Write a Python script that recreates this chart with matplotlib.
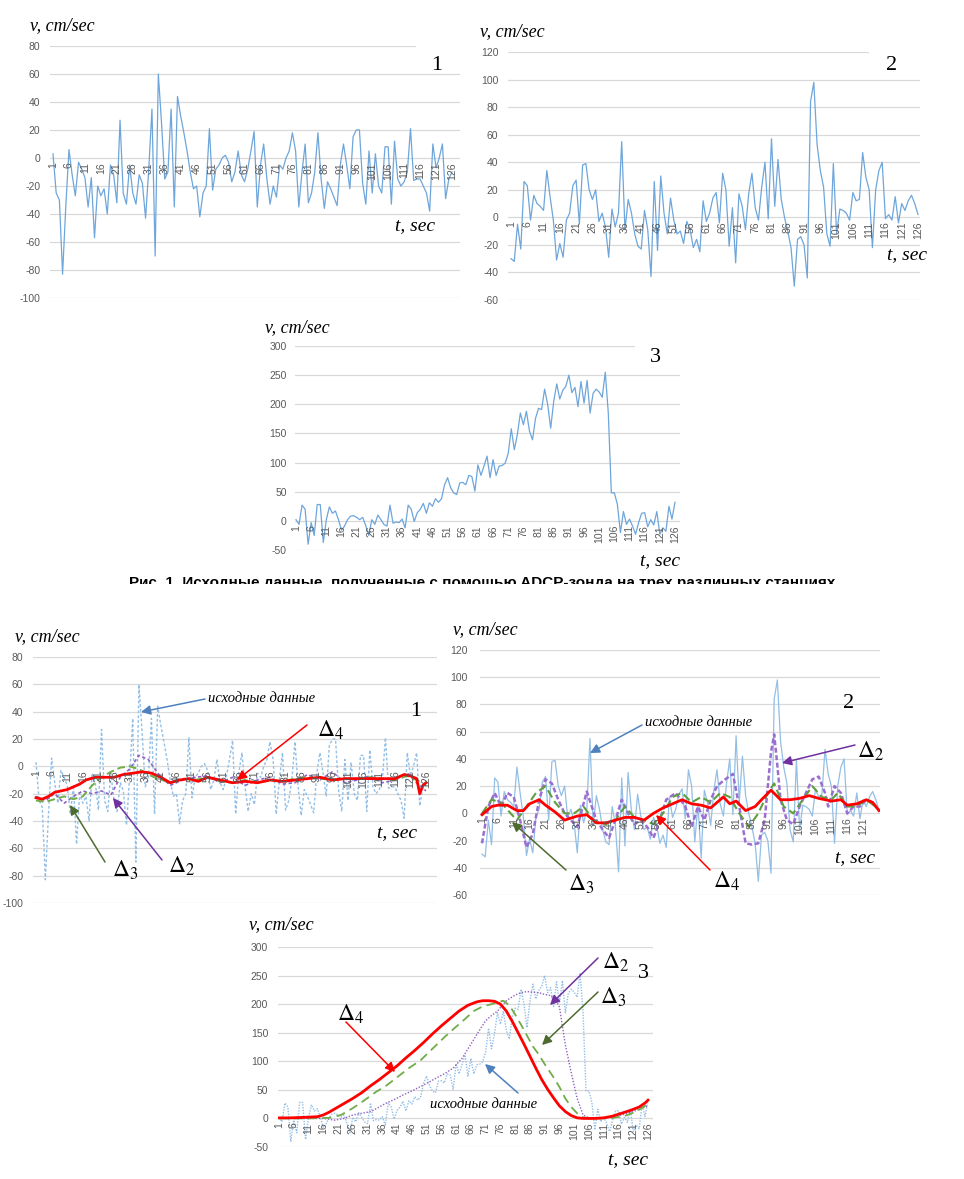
import numpy as np
import matplotlib.pyplot as plt
from matplotlib.patches import FancyArrowPatch, Rectangle

plt.rcParams['mathtext.fontset'] = 'stix'
plt.rcParams['font.family'] = ['Liberation Sans', 'DejaVu Sans']
plt.rcParams['axes.unicode_minus'] = False

# time axis (categories 1..126)
t = np.arange(1, 127)

# raw ADCP data, station 1
s1 = [3, -25, -30, -83, -35, 6, -12, -27, -3, -8,
      -14, -35, -14, -57, -20, -27, -22, -40, -5, -12,
      -32, 27, -25, -33, -5, -25, -33, -12, -18, -43,
      -8, 35, -70, 60, 25, -15, -10, 35, -35, 44,
      30, 18, 5, -10, -22, -20, -42, -25, -20, 21,
      -23, -8, -5, 0, 2, -3, -17, -10, 5, -12,
      -17, -8, 5, 19, -35, -5, 10, -15, -33, -20,
      -28, -5, -8, 0, 5, 18, 5, -35, -10, 10,
      -32, -25, -10, 18, -15, -36, -17, -22, -28, -34,
      -5, 10, -5, -22, 15, 20, 20, -18, -33, 5,
      -25, 3, -20, -25, 8, 8, -33, 12, -15, -20,
      -17, -10, 21, -16, -15, -15, -20, -25, -38, 10,
      -7, 0, 10, -29, -15, -10]

# station 2
s2 = [-30, -32, -5, -23, 26, 23, -2, 16, 10, 8,
      5, 34, 15, -2, -31, -19, -29, -2, 3, 23,
      27, -5, 38, 39, 20, 13, 20, -3, 3, -7,
      -29, 6, -7, 3, 55, -9, 13, 3, -12, -21,
      -23, 5, -9, -43, 26, -24, 30, 3, -12, 14,
      -2, -12, -10, -19, -3, -9, -22, -16, -25, 12,
      -3, 3, 14, 18, -4, 32, 20, -21, 7, -33,
      17, 8, -9, 17, 32, 7, -2, 22, 40, -1,
      57, 8, 42, 13, 0, -10, -22, -50, -16, -14,
      -20, -44, 84, 98, 53, 34, 22, -12, -21, 39,
      -12, 6, 5, 3, -2, 18, 12, 13, 47, 29,
      20, -22, 20, 34, 40, -1, 2, -2, 15, -4,
      10, 5, 12, 16, 10, 2]

# station 3
s3 = [2, -6, 27, 20, -40, -3, -25, 28, 28, -37,
      2, 24, 13, 17, 2, -16, -9, 2, 8, 9,
      6, 2, 6, -8, -25, 2, -6, 10, 2, -6,
      -9, 27, -4, -2, -3, 3, -12, 27, 20, -1,
      14, 20, 30, 13, 31, 25, 38, 32, 38, 62,
      74, 57, 48, 45, 65, 66, 62, 78, 76, 51,
      96, 78, 94, 111, 74, 105, 78, 94, 95, 99,
      116, 158, 122, 148, 185, 165, 188, 154, 139, 176,
      193, 191, 226, 200, 159, 205, 235, 209, 224, 231,
      250, 220, 229, 196, 239, 202, 241, 185, 219, 226,
      221, 212, 255, 185, 48, 48, 28, -20, 16, -6,
      3, -9, -23, -3, 13, 14, -10, 2, -7, 16,
      -23, -12, -18, 25, 3, 32]

# smoothed curves, station 1
d4_1_t = [1, 3, 5, 7, 9, 11, 13, 15, 17, 20, 23, 26, 29, 32, 35, 38, 41, 44, 47, 50, 53, 56,
          60, 64, 68, 72, 76, 80, 84, 88, 92, 96, 100, 104, 108, 112, 116, 119, 121, 123, 124, 125, 126]
d4_1_v = [-23, -24, -22, -19, -18, -17, -15, -13, -10, -8, -8, -8, -6, -5, -4, -5, -8, -12, -10, -9, -11, -8,
          -10, -12, -11, -12, -10, -11, -10, -9, -8, -10, -9, -9, -9, -9, -9, -6, -7, -9, -20, -14, -12]
d3_1_t = [1, 4, 7, 10, 13, 16, 19, 22, 25, 28, 31, 34, 37, 40, 44, 48, 52, 56, 60, 64, 68, 72,
          76, 80, 84, 88, 92, 96, 100, 104, 108, 112, 116, 120, 123, 126]
d3_1_v = [-25, -26, -24, -22, -24, -22, -14, -8, -4, -1, 0, -2, -6, -9, -12, -9, -10, -8, -11, -12, -10, -12,
          -10, -11, -9, -8, -9, -10, -9, -9, -8, -9, -10, -7, -10, -14]
d2_1_t = d3_1_t
d2_1_v = [-22, -25, -20, -27, -22, -18, -20, -18, -21, -8, -2, 8, 5, -5, -14, -10, -8, -7, -12, -8, -14, -10,
          -8, -13, -12, -6, -10, -4, -12, -10, -7, -12, -10, -5, -12, -18]

# smoothed curves, station 2
d4_2_t = [1, 4, 6, 9, 12, 14, 16, 19, 21, 24, 27, 31, 34, 37, 40, 43, 46, 49, 52, 55, 58, 61, 64,
          67, 70, 73, 77, 79, 81, 84, 87, 89, 92, 95, 98, 101, 104, 107, 111, 114, 116, 119, 122, 124, 126]
d4_2_v = [-1, 5, 6, 6, 2, 2, 7, 10, 6, 1, -5, -2, -1, -7, -7, -5, -3, -3, -5, 0, 4, 7, 10,
          7, 6, 4, 12, 7, 9, 2, 5, 10, 17, 10, 10, 11, 13, 11, 9, 10, 6, 7, 10, 8, 2]
d3_2_t = [1, 4, 7, 10, 12, 15, 18, 21, 24, 27, 30, 33, 36, 40, 43, 46, 49, 52, 55, 58, 61, 64,
          67, 70, 73, 76, 79, 82, 85, 88, 91, 93, 96, 99, 102, 105, 108, 111, 113, 116, 119, 122, 126]
d3_2_v = [0, 10, 8, 0, -5, 5, 15, 20, 8, 0, 0, 5, -5, -8, -5, 5, -3, -5, -8, 0, 12, 15,
          8, 12, 8, 15, 12, 0, -10, 0, 15, 22, 5, 0, 10, 20, 12, 10, 15, 5, 5, 10, 3]
d2_2_t = [1, 3, 5, 7, 9, 11, 13, 15, 17, 19, 21, 23, 25, 27, 29, 31, 34, 37, 39, 41, 43, 45,
          47, 49, 51, 53, 55, 57, 59, 62, 65, 67, 69, 71, 73, 75, 77, 80, 82, 84, 86, 88, 90,
          91, 92, 93, 94, 95, 97, 99, 101, 103, 105, 107, 109, 110, 112, 114, 116, 118, 120, 122, 124, 126]
d2_2_v = [-22, 5, 15, 5, 15, 12, -5, -25, -15, 10, 25, 22, 10, 0, -5, -10, 16, -5, -12, -18, -5, 10,
          0, -8, -5, -10, -18, -5, 10, 15, 5, -10, 5, -5, 10, 20, 24, 29, 5, -22, -23, -22, -5,
          20, 45, 58, 35, 10, -5, -8, 5, 15, 25, 27, 15, 5, 20, 15, 0, 5, 5, 10, 8, 2]

# smoothed curves, station 3
d4_3_t = [1, 5, 10, 14, 16, 18, 20, 23, 26, 29, 32, 35, 38, 41, 44, 47, 50, 53, 56, 59, 62, 65, 68,
          70, 72, 74, 76, 78, 80, 82, 84, 86, 88, 90, 92, 94, 96, 98, 100, 102, 104, 106, 108,
          111, 114, 117, 120, 123, 125, 126]
d4_3_v = [1, 1, 2, 3, 6, 11, 17, 26, 35, 45, 57, 68, 80, 92, 106, 119, 133, 148, 162, 175, 188, 198, 204,
          206, 206, 205, 200, 188, 170, 150, 130, 109, 88, 68, 51, 36, 22, 12, 5, 1, 0, 0, 0,
          1, 4, 9, 14, 20, 27, 32]
d3_3_t = [1, 10, 18, 22, 26, 30, 34, 37, 41, 45, 49, 53, 57, 60, 64, 67, 70, 73, 75, 77, 79, 81,
          83, 85, 87, 89, 91, 94, 96, 98, 100, 102, 104, 106, 110, 114, 118, 122, 126]
d3_3_v = [0, 0, 1, 6, 18, 32, 47, 56, 72, 88, 102, 122, 142, 156, 174, 188, 196, 200, 203, 206, 198, 182,
          164, 145, 126, 112, 95, 72, 55, 35, 20, 9, 2, 0, 0, 1, 4, 12, 25]
d2_3_t = [1, 10, 16, 20, 23, 26, 29, 32, 35, 37, 40, 43, 46, 49, 52, 54, 57, 60, 63, 66, 69, 71,
          73, 75, 78, 81, 83, 85, 87, 89, 91, 93, 95, 96, 98, 100, 102, 104, 106, 108, 112, 117, 121, 124, 126]
d2_3_v = [0, 0, 0, -3, 0, 6, 9, 12, 20, 26, 33, 41, 48, 56, 64, 70, 78, 88, 105, 130, 155, 171,
          180, 188, 206, 216, 220, 222, 221, 220, 217, 215, 205, 195, 129, 80, 35, 6, 1, 0, 1, 6, 12, 18, 22]

ticks_all = list(range(1, 127, 5))
ticks_121 = list(range(1, 122, 5))

W, H = 964, 1179
fig = plt.figure(figsize=(W / 100, H / 100), dpi=100)


def fx(x):
    return x / W


def fy(y):
    return 1 - y / H


def panel(box, x1, x126, ylim, ystep, pad, xticks):
    left, right, top, bottom = box
    ax = fig.add_axes([fx(left), fy(bottom), (right - left) / W, (bottom - top) / H])
    step = (x126 - x1) / 125
    ax.set_xlim(1 + (left - x1) / step, 1 + (right - x1) / step)
    ax.set_ylim(*ylim)
    ax.set_yticks(np.arange(ylim[0], ylim[1] + 1, ystep))
    ax.set_xticks([])
    ax.grid(axis='y', color='#d9d9d9', lw=0.9)
    ax.set_axisbelow(True)
    for s in ax.spines.values():
        s.set_visible(False)
    ax.tick_params(axis='y', length=0, pad=pad, labelsize=7.5, labelcolor='#595959')
    ax.patch.set_alpha(0)
    for lab in xticks:
        ax.annotate(str(lab), (lab, 0), xytext=(0, -3), textcoords='offset points',
                    rotation=90, ha='center', va='top', fontsize=7.5, color='#595959',
                    annotation_clip=False)
    return ax


def label(x, y, s, size, ha='left', **kw):
    fig.text(fx(x), fy(y), s, fontsize=size, ha=ha, va='center',
             family='Liberation Serif', **kw)


def arrow(tail, head, color):
    fig.add_artist(FancyArrowPatch((fx(tail[0]), fy(tail[1])), (fx(head[0]), fy(head[1])),
                                   transform=fig.transFigure, arrowstyle='-|>',
                                   mutation_scale=14, color=color, lw=1.1,
                                   shrinkA=0, shrinkB=0))


def white(x0, y0, x1, y1, z=2):
    fig.add_artist(Rectangle((fx(x0), fy(y1)), (x1 - x0) / W, (y1 - y0) / H,
                             transform=fig.transFigure, fc='white', ec='none', zorder=z))


RAW = '#6ea6db'
RAW_L = '#93bfe6'
RED = '#ff0000'
GREEN = '#70ad47'
PURPLE = '#8e62c2'
A_BLUE = '#4f81bd'
A_GREEN = '#4e6b2e'
A_PURPLE = '#7030a0'

# ---------- top row: raw data ----------
ax = panel((50, 460, 46, 298), 53, 452, (-100, 80), 20, 7, ticks_all)
ax.plot(t, s1, color=RAW, lw=0.9)
white(416, 40, 464, 52)
label(30, 26, 'v, cm/sec', 13, style='italic')
label(437, 66, '1', 16, ha='center')
label(415, 226, 't, sec', 14, ha='center', style='italic')

ax = panel((508, 920, 52, 300), 511, 918, (-60, 120), 20, 7, ticks_all)
ax.plot(t, s2, color=RAW, lw=0.9)
white(869, 46, 924, 58)
label(480, 32, 'v, cm/sec', 13, style='italic')
label(892, 66, '2', 16, ha='center')
label(907, 255, 't, sec', 14, ha='center', style='italic')

ax = panel((295, 680, 346, 550), 296, 675, (-50, 300), 50, 6, ticks_all)
ax.plot(t, s3, color=RAW, lw=0.9)
white(635, 340, 684, 352)
label(265, 328, 'v, cm/sec', 13, style='italic')
label(655, 357, '3', 16, ha='center')
label(660, 561, 't, sec', 14, ha='center', style='italic')

# caption (its lower half is cut off in the source)
fig.text(fx(482), fy(583), 'Рис. 1. Исходные данные, полученные с помощью ADCP-зонда на трех различных станциях',
         fontsize=11, weight='bold', ha='center', va='center')
white(80, 584, 900, 597, z=5)

# ---------- bottom row: smoothing ----------
ax = panel((33, 437, 657, 903), 36, 426, (-100, 80), 20, 7, ticks_all)
ax.plot(t, s1, color=RAW_L, lw=1, ls=(0, (2, 1.5)))
ax.plot(d2_1_t, d2_1_v, color=PURPLE, lw=1.2, ls=(0, (2, 1.5)))
ax.plot(d3_1_t, d3_1_v, color=GREEN, lw=1.4, ls=(0, (4, 2)))
ax.plot(d4_1_t, d4_1_v, color=RED, lw=2)
label(15, 637, 'v, cm/sec', 13, style='italic')
label(416, 712, '1', 16, ha='center')
label(397, 833, 't, sec', 14, ha='center', style='italic')
label(208, 698, 'исходные данные', 10.5, style='italic')
arrow((205, 699), (141, 712), A_BLUE)
label(317, 730, r'$\Delta_4$', 17)
arrow((307, 725), (237, 780), RED)
label(112, 870, r'$\Delta_3$', 17)
arrow((105, 862), (70, 805), A_GREEN)
label(168, 866, r'$\Delta_2$', 17)
arrow((162, 860), (113, 798), A_PURPLE)

ax = panel((480, 880, 650, 895), 482, 879, (-60, 120), 20, 9, ticks_121)
ax.plot(t, s2, color=RAW_L, lw=0.9)
ax.plot(d2_2_t, d2_2_v, color='#9b6fd1', lw=1.8, ls=(0, (2, 1)))
ax.plot(d3_2_t, d3_2_v, color='#5f9e3f', lw=1.5, ls=(0, (4, 2)))
ax.plot(d4_2_t, d4_2_v, color=RED, lw=2)
white(828, 687, 884, 699)
label(453, 630, 'v, cm/sec', 13, style='italic')
label(849, 704, '2', 16, ha='center')
label(855, 858, 't, sec', 14, ha='center', style='italic')
label(645, 722, 'исходные данные', 10.5, style='italic')
arrow((642, 725), (590, 753), A_BLUE)
label(857, 751, r'$\Delta_2$', 17)
arrow((855, 745), (782, 763), A_PURPLE)
label(568, 884, r'$\Delta_3$', 17)
arrow((566, 870), (512, 822), A_GREEN)
label(713, 881, r'$\Delta_4$', 17)
arrow((710, 870), (656, 815), RED)

ax = panel((278, 653, 947, 1147), 279, 648, (-50, 300), 50, 7, ticks_all)
ax.plot(t, s3, color=RAW_L, lw=1, ls=(0, (1, 1)))
ax.plot(d2_3_t, d2_3_v, color=PURPLE, lw=1, ls=(0, (1, 1.2)))
ax.plot(d3_3_t, d3_3_v, color=GREEN, lw=1.3, ls=(0, (5, 3)))
ax.plot(d4_3_t, d4_3_v, color=RED, lw=2)
label(249, 925, 'v, cm/sec', 13, style='italic')
label(643, 973, '3', 16, ha='center')
label(628, 1160, 't, sec', 14, ha='center', style='italic')
label(430, 1104, 'исходные данные', 10.5, style='italic')
arrow((518, 1093), (485, 1064), A_BLUE)
label(337, 1014, r'$\Delta_4$', 17)
arrow((346, 1022), (395, 1072), RED)
label(602, 962, r'$\Delta_2$', 17)
arrow((598, 958), (550, 1005), A_PURPLE)
label(600, 997, r'$\Delta_3$', 17)
arrow((598, 992), (542, 1045), A_GREEN)

fig.savefig('out.png', dpi=100)
